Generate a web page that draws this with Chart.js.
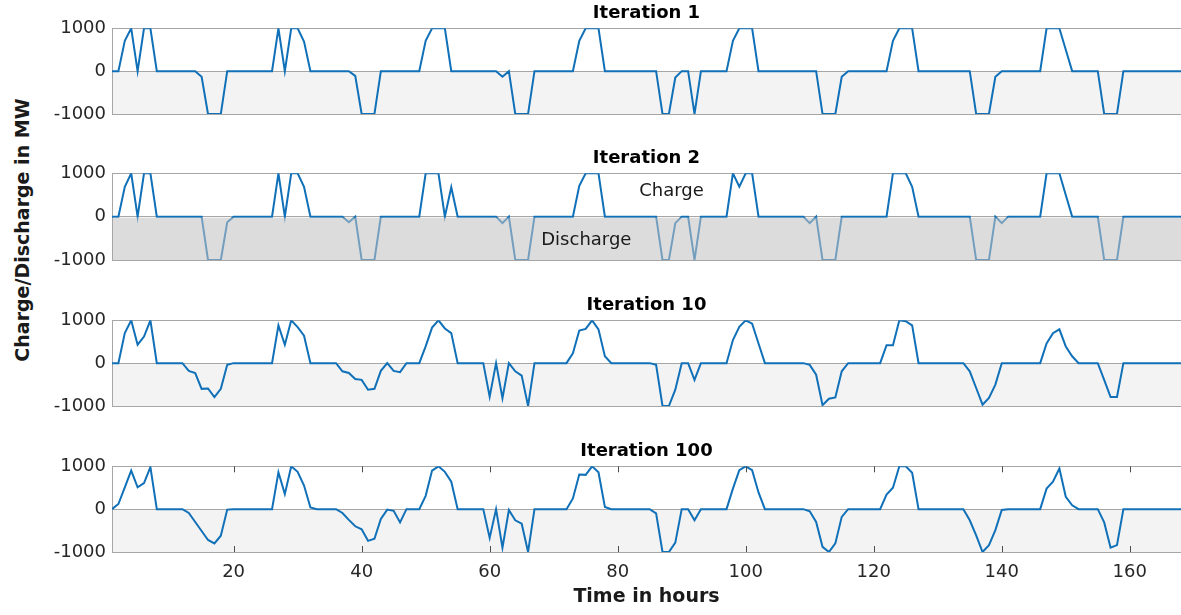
<!DOCTYPE html>
<html>
<head>
<meta charset="utf-8">
<script src="https://cdn.jsdelivr.net/npm/chart.js@4.4.1/dist/chart.umd.min.js"></script>
<style>
  body { margin: 0; background: #fff; }
  #wrap { position: relative; width: 1181px; height: 615px; overflow: hidden; }
  canvas { position: absolute; left: 0; }
  #ylabel {
    position: absolute; left: 22px; top: 230px;
    transform: translate(-50%, -50%) rotate(-90deg);
    white-space: nowrap; font: bold 19px "DejaVu Sans"; color: #1a1a1a;
  }
</style>
</head>
<body>
<div id="wrap">
  <div id="ylabel">Charge/Discharge in MW</div>
  <canvas id="c1" style="top:0px" width="1181" height="132"></canvas>
  <canvas id="c2" style="top:145px" width="1181" height="133"></canvas>
  <canvas id="c3" style="top:292px" width="1181" height="132"></canvas>
  <canvas id="c4" style="top:438px" width="1181" height="177"></canvas>
</div>
<script>
// horas 1..168
const hours = Array.from({ length: 168 }, (_, i) => i + 1);

const iter1 = [
  0, 0, 710, 1000, 0, 1000, 1000, 0, 0, 0, 0, 0,
  0, 0, -130, -1000, -1000, -1000, 0, 0, 0, 0, 0, 0,
  0, 0, 1000, 0, 1000, 1000, 690, 0, 0, 0, 0, 0,
  0, 0, -110, -1000, -1000, -1000, 0, 0, 0, 0, 0, 0,
  0, 710, 1000, 1000, 1000, 0, 0, 0, 0, 0, 0, 0,
  0, -130, 0, -1000, -1000, -1000, 0, 0, 0, 0, 0, 0,
  0, 710, 1000, 1000, 1000, 0, 0, 0, 0, 0, 0, 0,
  0, 0, -1000, -1000, -150, 0, 0, -1000, 0, 0, 0, 0,
  0, 710, 1000, 1000, 1000, 0, 0, 0, 0, 0, 0, 0,
  0, 0, 0, -1000, -1000, -1000, -130, 0, 0, 0, 0, 0,
  0, 0, 710, 1000, 1000, 1000, 0, 0, 0, 0, 0, 0,
  0, 0, 0, -1000, -1000, -1000, -130, 0, 0, 0, 0, 0,
  0, 0, 1000, 1000, 1000, 500, 0, 0, 0, 0, 0, -1000,
  -1000, -1000, 0, 0, 0, 0, 0, 0, 0, 0, 0, 0
];

const iter2 = [
  0, 0, 690, 1000, 0, 1000, 1000, 0, 0, 0, 0, 0,
  0, 0, 0, -1000, -1000, -1000, -130, 0, 0, 0, 0, 0,
  0, 0, 1000, 0, 1000, 1000, 690, 0, 0, 0, 0, 0,
  0, -130, 0, -1000, -1000, -1000, 0, 0, 0, 0, 0, 0,
  0, 1000, 1000, 1000, 0, 680, 0, 0, 0, 0, 0, 0,
  0, -150, 0, -1000, -1000, -1000, 0, 0, 0, 0, 0, 0,
  0, 710, 1000, 1000, 1000, 0, 0, 0, 0, 0, 0, 0,
  0, 0, -1000, -1000, -150, 0, 0, -1000, 0, 0, 0, 0,
  0, 1000, 690, 1000, 1000, 0, 0, 0, 0, 0, 0, 0,
  0, -150, 0, -1000, -1000, -1000, 0, 0, 0, 0, 0, 0,
  0, 0, 1000, 1000, 1000, 690, 0, 0, 0, 0, 0, 0,
  0, 0, 0, -1000, -1000, -1000, 0, -150, 0, 0, 0, 0,
  0, 0, 1000, 1000, 1000, 500, 0, 0, 0, 0, 0, -1000,
  -1000, -1000, 0, 0, 0, 0, 0, 0, 0, 0, 0, 0
];

const iter10 = [
  0, 0, 700, 1000, 430, 620, 1000, 0, 0, 0, 0, 0,
  -180, -230, -600, -590, -790, -600, -40, 0, 0, 0, 0, 0,
  0, 0, 880, 430, 1000, 840, 640, 0, 0, 0, 0, 0,
  -190, -230, -370, -390, -620, -600, -180, 0, -180, -210, 0, 0,
  0, 390, 830, 1000, 810, 700, 0, 0, 0, 0, 0, -780,
  0, -820, 0, -190, -290, -1000, 0, 0, 0, 0, 0, 0,
  230, 760, 800, 1000, 790, 160, 0, 0, 0, 0, 0, 0,
  0, -40, -1000, -1000, -620, 0, 0, -390, 0, 0, 0, 0,
  0, 540, 850, 1000, 920, 460, 0, 0, 0, 0, 0, 0,
  0, -40, -270, -980, -830, -800, -190, 0, 0, 0, 0, 0,
  0, 420, 420, 1000, 980, 880, 0, 0, 0, 0, 0, 0,
  0, 0, -190, -580, -970, -810, -500, 0, 0, 0, 0, 0,
  0, 0, 460, 700, 790, 390, 160, 0, 0, 0, 0, -390,
  -790, -790, 0, 0, 0, 0, 0, 0, 0, 0, 0, 0
];

const iter100 = [
  0, 120, 510, 900, 510, 610, 980, 0, 0, 0, 0, 0,
  -90, -300, -510, -720, -800, -620, -10, 0, 0, 0, 0, 0,
  0, 0, 860, 350, 1000, 870, 550, 40, 0, 0, 0, 0,
  -90, -250, -400, -470, -740, -690, -230, -10, -40, -310, 0, 0,
  0, 310, 900, 1000, 870, 640, 0, 0, 0, 0, 0, -670,
  0, -900, -20, -260, -340, -1000, 0, 0, 0, 0, 0, 0,
  250, 810, 800, 1000, 860, 50, 0, 0, 0, 0, 0, 0,
  0, -100, -1000, -1000, -780, 0, 0, -260, 0, 0, 0, 0,
  0, 480, 910, 1000, 910, 390, 0, 0, 0, 0, 0, 0,
  0, -50, -300, -880, -1000, -800, -180, 0, 0, 0, 0, 0,
  0, 340, 500, 1000, 1000, 850, 0, 0, 0, 0, 0, 0,
  0, 0, -260, -610, -1000, -840, -490, -20, 0, 0, 0, 0,
  0, 0, 480, 640, 950, 290, 90, 0, 0, 0, 0, -310,
  -900, -840, 0, 0, 0, 0, 0, 0, 0, 0, 0, 0
];

const yTicks = [-1000, 0, 1000];
const xTicks = [20, 40, 60, 80, 100, 120, 140, 160];
const titles = ['Iteration 1', 'Iteration 2', 'Iteration 10', 'Iteration 100'];

const lineColor = 'rgb(16,112,184)';
const axisGray = '#a6a6a6';
const font = 'DejaVu Sans';

// zona gris bajo cero, textos y marcas
const panelPlugin = {
  id: 'panel',
  beforeDraw(chart, args, opts) {
    if (opts.overlay) return;
    const { ctx, chartArea: a, scales: { y } } = chart;
    const y0 = y.getPixelForValue(0);
    ctx.save();
    ctx.fillStyle = '#f3f3f3';
    ctx.fillRect(a.left, y0, a.right - a.left, a.bottom - y0);
    ctx.restore();
  },
  afterDatasetsDraw(chart, args, opts) {
    const { ctx, chartArea: a, scales: { x, y } } = chart;
    ctx.save();
    if (opts.overlay) {
      const y0 = y.getPixelForValue(0) + 1;
      ctx.fillStyle = 'rgba(193,193,193,0.57)';
      ctx.fillRect(a.left + 1, y0, a.right - a.left - 1, a.bottom - y0);
    }
    (opts.notes || []).forEach((n) => {
      ctx.font = `18px "${font}"`;
      ctx.fillStyle = '#1a1a1a';
      ctx.textAlign = 'center';
      ctx.textBaseline = 'middle';
      ctx.fillText(n.text, x.getPixelForValue(n.x), y.getPixelForValue(n.y));
    });
    ctx.restore();
  },
  afterDraw(chart, args, opts) {
    if (!opts.tickMarks) return;
    const { ctx, chartArea: a, scales: { x } } = chart;
    ctx.save();
    ctx.strokeStyle = '#4d4d4d';
    ctx.lineWidth = 1;
    ctx.beginPath();
    x.ticks.forEach((t) => {
      const px = Math.round(x.getPixelForValue(t.value)) + 0.5;
      ctx.moveTo(px, a.top);
      ctx.lineTo(px, a.top + 6);
      ctx.moveTo(px, a.bottom);
      ctx.lineTo(px, a.bottom - 6);
    });
    ctx.stroke();
    ctx.restore();
  }
};

const makeChart = (id, values, title, last, panelOpts) => {
  const xScale = {
    type: 'linear',
    min: 1,
    max: 168,
    display: last,
    afterBuildTicks: (s) => { s.ticks = xTicks.map((v) => ({ value: v })); },
    afterFit: (s) => { if (last) s.height = 58; },
    grid: { display: false, drawTicks: false },
    border: { display: false },
    ticks: {
      font: { family: font, size: 18 },
      color: '#262626',
      padding: 10,
      maxRotation: 0,
      autoSkip: false,
      callback: (v) => String(v)
    },
    title: {
      display: last,
      text: 'Time in hours',
      font: { family: font, size: 19, weight: 'bold' },
      color: '#1a1a1a',
      padding: { top: 3, bottom: 2 }
    }
  };

  return new Chart(document.getElementById(id), {
    type: 'line',
    data: {
      datasets: [{
        data: hours.map((h, i) => ({ x: h, y: values[i] })),
        borderColor: lineColor,
        borderWidth: 2,
        pointRadius: 0,
        tension: 0,
        fill: false
      }]
    },
    options: {
      responsive: false,
      animation: false,
      devicePixelRatio: 1,
      layout: { padding: { left: 0, right: 0, top: 0, bottom: last ? 5 : 18 } },
      scales: {
        x: xScale,
        y: {
          min: -1000,
          max: 1000,
          afterBuildTicks: (s) => { s.ticks = yTicks.map((v) => ({ value: v })); },
          afterFit: (s) => { s.width = 112; },
          ticks: {
            font: { family: font, size: 18 },
            color: '#262626',
            padding: 6,
            callback: (v) => String(v)
          },
          grid: { color: axisGray, drawTicks: false },
          border: { display: true, color: axisGray }
        }
      },
      plugins: {
        legend: { display: false },
        tooltip: { enabled: false },
        title: {
          display: true,
          text: title,
          fullSize: false,
          font: { family: font, size: 18, weight: 'bold' },
          color: '#000',
          padding: { top: 3, bottom: 3.7 }
        },
        panel: panelOpts
      }
    },
    plugins: [panelPlugin]
  });
};

makeChart('c1', iter1, titles[0], false, {});
makeChart('c2', iter2, titles[1], false, {
  overlay: true,
  notes: [
    { text: 'Charge', x: 88.4, y: 590 },
    { text: 'Discharge', x: 75.1, y: -540 }
  ]
});
makeChart('c3', iter10, titles[2], false, {});
makeChart('c4', iter100, titles[3], true, { tickMarks: true });
</script>
</body>
</html>
